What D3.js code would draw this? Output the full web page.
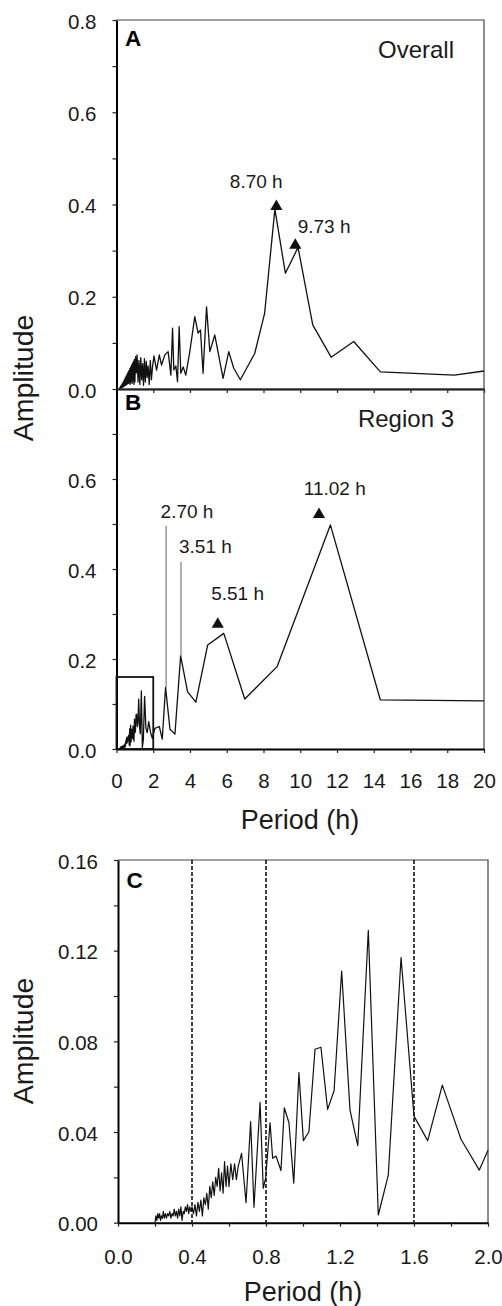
<!DOCTYPE html>
<html>
<head>
<meta charset="utf-8">
<script src="https://cdn.jsdelivr.net/npm/d3@7"></script>
<style>
  body { margin: 0; background: #fff; }
  svg { display: block; font-family: Arial, "Liberation Sans", Helvetica, sans-serif; }
</style>
</head>
<body>
<script>
// ---- data ----
// Panel A: overall spectrum
const periodA = [
  0.150, 0.175, 0.200, 0.225, 0.250, 0.275, 0.300, 0.325, 0.350, 0.375,
  0.400, 0.425, 0.450, 0.475, 0.500, 0.525, 0.550, 0.575, 0.600, 0.625,
  0.650, 0.675, 0.700, 0.725, 0.750, 0.775, 0.800, 0.825, 0.850, 0.875,
  0.900, 0.925, 0.950, 0.975, 1.000,
  1.04, 1.08, 1.12, 1.17, 1.22, 1.27, 1.32, 1.37, 1.42, 1.47,
  1.52, 1.57, 1.62, 1.67, 1.72, 1.78, 1.84, 1.90, 1.96, 2.04,
  2.18, 2.33, 2.45, 2.63, 2.81, 2.96, 3.05, 3.12, 3.23, 3.32,
  3.41, 3.50, 3.63, 3.77, 3.99, 4.26, 4.44, 4.57, 4.71, 4.90,
  5.08, 5.35, 5.80, 6.11, 6.38, 6.74, 7.52, 8.06, 8.62, 9.19,
  9.88, 10.68, 11.68, 12.91, 14.36, 18.38, 20.0
]
const ampA = [
  0.000, 0.003, 0.001, 0.006, 0.002, 0.009, 0.003, 0.012, 0.004, 0.016,
  0.006, 0.020, 0.007, 0.024, 0.008, 0.028, 0.010, 0.032, 0.011, 0.036,
  0.012, 0.040, 0.014, 0.044, 0.010, 0.048, 0.016, 0.052, 0.012, 0.056,
  0.018, 0.060, 0.010, 0.064, 0.015,
  0.070, 0.035, 0.074, 0.015, 0.062, 0.010, 0.068, 0.020, 0.055, 0.008,
  0.066, 0.015, 0.060, 0.025, 0.050, 0.010, 0.062, 0.020, 0.048, 0.072,
  0.041, 0.074, 0.052, 0.074, 0.081, 0.030, 0.132, 0.041, 0.050, 0.016,
  0.135, 0.034, 0.048, 0.030, 0.081, 0.157, 0.121, 0.128, 0.034, 0.178,
  0.081, 0.117, 0.023, 0.081, 0.045, 0.020, 0.077, 0.164, 0.390, 0.251,
  0.307, 0.139, 0.069, 0.103, 0.037, 0.030, 0.039
]

// Panels B and C: region 3 spectrum (C is the 0-2 h part of B)
const periodR3 = [
  0.200, 0.205, 0.210, 0.215, 0.220, 0.225, 0.230, 0.235, 0.240, 0.245,
  0.250, 0.256, 0.262, 0.268, 0.274, 0.280, 0.286, 0.292, 0.298, 0.304,
  0.310, 0.316, 0.322, 0.328, 0.334, 0.340, 0.346, 0.352, 0.358, 0.364,
  0.370, 0.376, 0.382, 0.388, 0.394, 0.400, 0.408, 0.416, 0.424, 0.432,
  0.440, 0.448, 0.456, 0.464, 0.472, 0.480, 0.488, 0.496, 0.504, 0.512,
  0.520, 0.528, 0.536, 0.544, 0.552, 0.560, 0.568, 0.576, 0.584, 0.592,
  0.600, 0.610, 0.620, 0.630, 0.640, 0.650, 0.668, 0.692, 0.717, 0.735,
  0.768, 0.785, 0.798, 0.822, 0.836, 0.854, 0.881, 0.899, 0.924, 0.950,
  0.978, 1.002, 1.032, 1.065, 1.097, 1.133, 1.168, 1.209, 1.254, 1.296,
  1.353, 1.407, 1.461, 1.530, 1.600, 1.674, 1.753, 1.854, 1.953, 2.000,
  2.09, 2.33, 2.49, 2.67, 2.91, 3.18, 3.49, 3.87, 4.32, 4.96,
  5.84, 6.98, 8.74, 11.64, 14.36, 20.0
]
const ampR3 = [
  0.000, 0.003, 0.001, 0.004, 0.002, 0.004, 0.001, 0.003, 0.002, 0.005,
  0.002, 0.004, 0.002, 0.004, 0.003, 0.005, 0.002, 0.004, 0.003, 0.006,
  0.003, 0.005, 0.002, 0.006, 0.003, 0.007, 0.001, 0.005, 0.004, 0.007,
  0.005, 0.008, 0.004, 0.007, 0.005, 0.007, 0.004, 0.008, 0.003, 0.009,
  0.005, 0.010, 0.003, 0.011, 0.008, 0.013, 0.006, 0.016, 0.011, 0.018,
  0.012, 0.020, 0.016, 0.024, 0.014, 0.022, 0.013, 0.027, 0.016, 0.025,
  0.016, 0.026, 0.019, 0.026, 0.019, 0.025, 0.0306, 0.0088, 0.0446, 0.0068,
  0.0531, 0.0152, 0.0196, 0.0441, 0.0284, 0.0294, 0.023, 0.0507, 0.0441, 0.0174,
  0.0662, 0.0362, 0.0401, 0.0765, 0.0774, 0.050, 0.0582, 0.111, 0.0497, 0.034,
  0.129, 0.0034, 0.021, 0.117, 0.047, 0.0362, 0.0607, 0.0368, 0.0232, 0.032,
  0.046, 0.050, 0.022, 0.137, 0.044, 0.033, 0.207, 0.127, 0.104, 0.231,
  0.257, 0.111, 0.183, 0.498, 0.109, 0.107
]

// peak marks (triangles) and their labels
const markLabelsA = ['8.70 h', '9.73 h']
const markPeriodA = [8.70, 9.73]
const markAmpA = [0.388, 0.304]
const labelPeriodA = [6.17, 9.86]
const labelAmpA = [0.436, 0.338]

const markLabelsB = ['5.51 h', '11.02 h']
const markPeriodB = [5.51, 11.02]
const markAmpB = [0.269, 0.513]
const labelPeriodB = [5.15, 10.19]
const labelAmpB = [0.331, 0.564]

// peaks pointed at with a thin line
const lineLabelsB = ['2.70 h', '3.51 h']
const linePeriodB = [2.70, 3.51]
const lineTopAmpB = [0.496, 0.416]
const lineBottomAmpB = [0.137, 0.207]
const lineLabelPeriodB = [2.40, 3.40]
const lineLabelAmpB = [0.513, 0.436]

// dashed guides in C
const guidesC = [0.4, 0.8, 1.6]

const svg = d3.select('body').append('svg')
  .attr('width', 502)
  .attr('height', 1306)

const zipPts = (px, py) => px.map((p, i) => [p, py[i]])

function panel(cfg) {
  const x = d3.scaleLinear().domain(cfg.xDomain).range([cfg.left, cfg.right])
  const y = d3.scaleLinear().domain(cfg.yDomain).range([cfg.bottom, cfg.top])
  const g = svg.append('g')

  // top and right frame
  g.append('path')
    .attr('d', `M${cfg.left},${cfg.top}H${cfg.right}V${cfg.bottom}`)
    .attr('fill', 'none')
    .attr('stroke', '#444')
    .attr('stroke-width', 1.2)

  const isMajor = (d, step) => Math.abs(d / step - Math.round(d / step)) < 1e-6

  const yAxis = g.append('g')
    .attr('transform', `translate(${cfg.left},0)`)
    .call(d3.axisLeft(y)
      .tickValues(cfg.yTicks)
      .tickSize(4)
      .tickSizeOuter(0)
      .tickPadding(16)
      .tickFormat(d => (cfg.yLabels.some(v => Math.abs(v - d) < 1e-9) ? d3.format(cfg.yFmt)(d) : '')))
  const xAxis = g.append('g')
    .attr('transform', `translate(0,${cfg.bottom})`)
    .call(d3.axisBottom(x)
      .tickValues(cfg.xTicks)
      .tickSize(4)
      .tickSizeOuter(0)
      .tickPadding(cfg.xPad)
      .tickFormat(d => (cfg.xLabelStep && isMajor(d, cfg.xLabelStep) ? d3.format(cfg.xFmt)(d) : '')))

  ;[xAxis, yAxis].forEach(a => {
    a.attr('font-family', null).attr('font-size', null)
    a.select('.domain').attr('stroke', '#000').attr('stroke-width', 2)
    a.selectAll('.tick line').attr('stroke', '#222').attr('stroke-width', 1.2)
    a.selectAll('.tick text').attr('fill', '#1a1a1a').style('font-size', '20.5px')
  })
  yAxis.selectAll('.tick text').attr('dy', '0.4em')

  g.append('text')
    .attr('x', cfg.left + 8.5)
    .attr('y', cfg.top + cfg.letterDy)
    .attr('font-weight', 'bold')
    .style('font-size', '22.5px')
    .text(cfg.letter)

  if (cfg.title) {
    g.append('text')
      .attr('x', cfg.right - 30)
      .attr('y', cfg.top + 37.5)
      .attr('text-anchor', 'end')
      .style('font-size', '24px')
      .attr('fill', '#1a1a1a')
      .text(cfg.title)
  }
  return { x, y, g }
}

const line = (x, y) => d3.line().x(d => x(d[0])).y(d => y(d[1]))

function dataLine(p, pts, w) {
  p.g.append('path')
    .datum(pts)
    .attr('d', line(p.x, p.y))
    .attr('fill', 'none')
    .attr('stroke', '#111')
    .attr('stroke-width', w)
    .attr('stroke-linejoin', 'round')
}

function triangles(p, periods, amps, labels, lp, la) {
  const tri = d3.symbol(d3.symbolTriangle, 64)
  p.g.selectAll(null)
    .data(periods)
    .join('path')
    .attr('d', tri)
    .attr('transform', (d, i) => `translate(${p.x(d)},${p.y(amps[i]) - 3.6})`)
    .attr('fill', '#111')
  p.g.selectAll(null)
    .data(labels)
    .join('text')
    .attr('x', (d, i) => p.x(lp[i]))
    .attr('y', (d, i) => p.y(la[i]))
    .style('font-size', '19px')
    .attr('fill', '#1a1a1a')
    .text(d => d)
}

// Panel A
const pA = panel({
  xDomain: [0, 20], yDomain: [0, 0.8],
  left: 116.5, right: 484, top: 20, bottom: 389,
  yTicks: d3.range(0, 0.81, 0.1), yLabels: [0, 0.2, 0.4, 0.6, 0.8], yFmt: '.1f',
  xTicks: d3.range(0, 21, 2), xLabelStep: null, xPad: 20,
  letter: 'A', letterDy: 26, title: 'Overall'
})
dataLine(pA, zipPts(periodA, ampA), 1.3)
triangles(pA, markPeriodA, markAmpA, markLabelsA, labelPeriodA, labelAmpA)

// Panel B
const pB = panel({
  xDomain: [0, 20], yDomain: [0, 0.8],
  left: 116.5, right: 484, top: 389, bottom: 749,
  yTicks: d3.range(0, 0.75, 0.1), yLabels: [0, 0.2, 0.4, 0.6], yFmt: '.1f',
  xTicks: d3.range(0, 21, 2), xLabelStep: 2, xFmt: 'd', xPad: 20,
  letter: 'B', letterDy: 20.5, title: 'Region 3'
})
dataLine(pB, zipPts(periodR3, ampR3), 1.3)
// box showing the zoomed range of C
pB.g.append('rect')
  .attr('x', pB.x(0))
  .attr('y', pB.y(0.16))
  .attr('width', pB.x(2) - pB.x(0))
  .attr('height', pB.y(0) - pB.y(0.16))
  .attr('fill', 'none')
  .attr('stroke', '#111')
  .attr('stroke-width', 1.8)
triangles(pB, markPeriodB, markAmpB, markLabelsB, labelPeriodB, labelAmpB)
pB.g.selectAll(null)
  .data(linePeriodB)
  .join('line')
  .attr('x1', d => pB.x(d))
  .attr('x2', d => pB.x(d))
  .attr('y1', (d, i) => pB.y(lineTopAmpB[i]))
  .attr('y2', (d, i) => pB.y(lineBottomAmpB[i]))
  .attr('stroke', '#666')
  .attr('stroke-width', 1)
pB.g.selectAll(null)
  .data(lineLabelsB)
  .join('text')
  .attr('x', (d, i) => pB.x(lineLabelPeriodB[i]))
  .attr('y', (d, i) => pB.y(lineLabelAmpB[i]))
  .style('font-size', '19px')
  .attr('fill', '#1a1a1a')
  .text(d => d)

// Panel C
const pC = panel({
  xDomain: [0, 2], yDomain: [0, 0.16],
  left: 118, right: 488, top: 860, bottom: 1222.7,
  yTicks: d3.range(0, 0.161, 0.02), yLabels: [0, 0.04, 0.08, 0.12, 0.16], yFmt: '.2f',
  xTicks: d3.range(0, 2.01, 0.2), xLabelStep: 0.4, xFmt: '.1f', xPad: 23,
  letter: 'C', letterDy: 27.5, title: null
})
pC.g.selectAll(null)
  .data(guidesC)
  .join('line')
  .attr('x1', d => pC.x(d))
  .attr('x2', d => pC.x(d))
  .attr('y1', pC.y(0.16))
  .attr('y2', pC.y(0))
  .attr('stroke', '#111')
  .attr('stroke-width', 1.6)
  .attr('stroke-dasharray', '4,2')
dataLine(pC, zipPts(periodR3, ampR3).filter(d => d[0] <= 2), 1.2)

// axis titles
const titles = [
  { t: 'Amplitude', x: 33, y: 378, rot: true },
  { t: 'Amplitude', x: 33, y: 1041, rot: true },
  { t: 'Period (h)', x: 300, y: 829, rot: false },
  { t: 'Period (h)', x: 303, y: 1301, rot: false }
]
svg.selectAll('.title')
  .data(titles)
  .join('text')
  .attr('class', 'title')
  .attr('text-anchor', 'middle')
  .attr('transform', d => `translate(${d.x},${d.y})` + (d.rot ? ' rotate(-90)' : ''))
  .style('font-size', d => (d.rot ? '28.5px' : '27px'))
  .attr('fill', '#1a1a1a')
  .text(d => d.t)
</script>
</body>
</html>
